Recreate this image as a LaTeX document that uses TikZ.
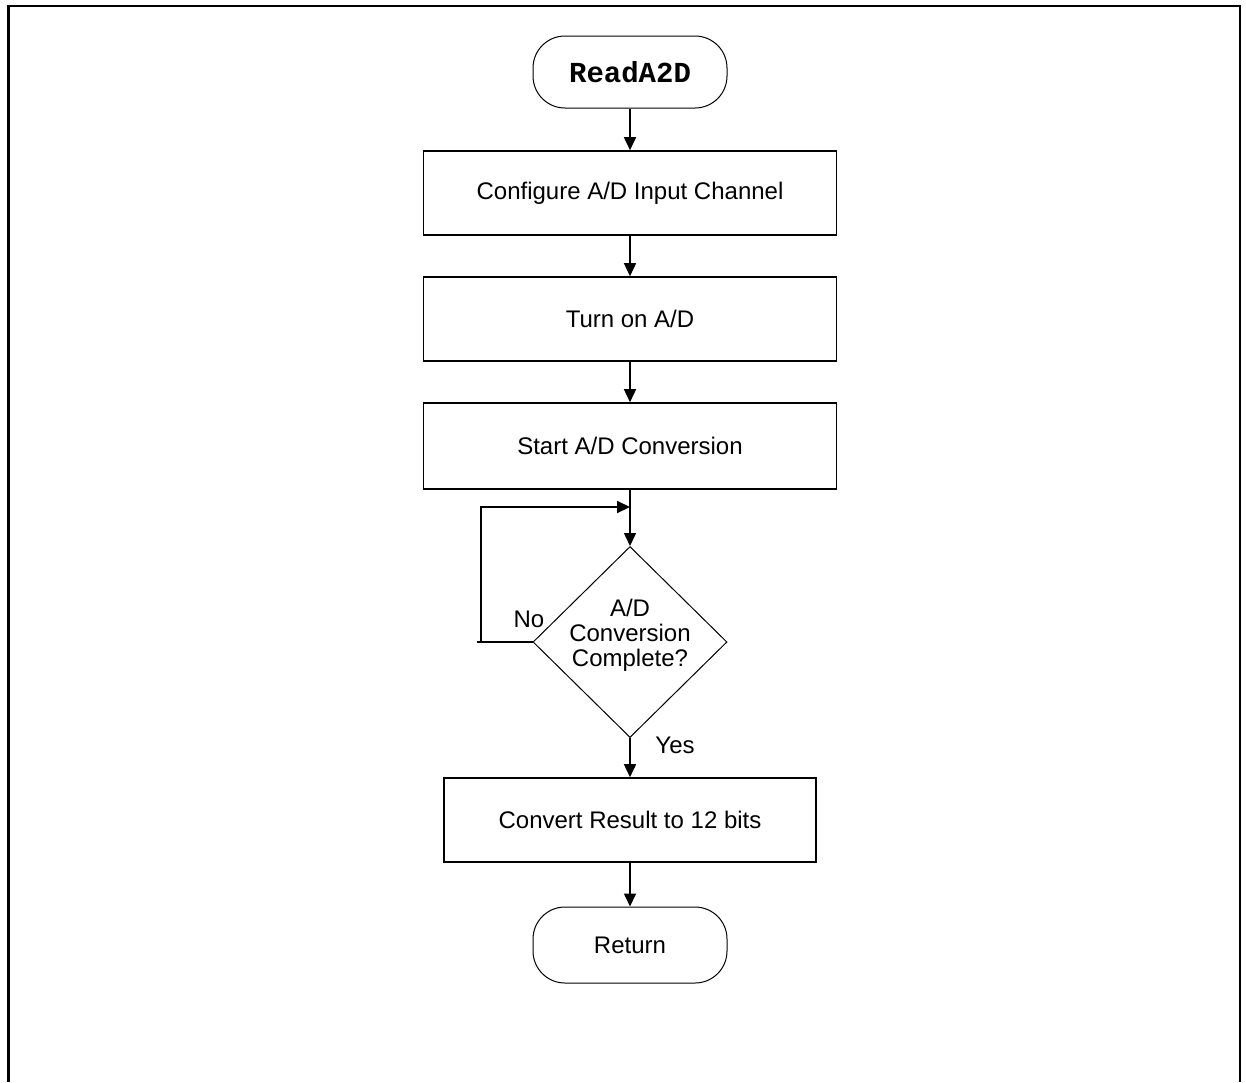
\documentclass[tikz,border=0pt]{standalone}
\usepackage{fontspec}
\setmainfont{Liberation Sans}
\newfontfamily\codefont{Liberation Mono}
\usepackage{tikz}
\usetikzlibrary{arrows.meta, positioning, calc, shapes.geometric}

\begin{document}
\begin{tikzpicture}[x=0.5pt, y=-0.5pt, >={Triangle[length=6.5pt, width=6pt]},
    every node/.style={font=\fontsize{12}{12.5}\selectfont},
    term/.style={draw, line width=0.5pt, rounded corners=16pt, minimum width=97pt, minimum height=37pt, inner sep=0pt},
    proc/.style={draw, line width=0.8pt, minimum width=206.5pt, minimum height=42pt, inner sep=0pt},
    dec/.style={draw, diamond, line width=0.5pt, minimum width=97pt, minimum height=95.5pt, inner sep=0pt},
    line/.style={line width=0.8pt}]
    \useasboundingbox (0,0) rectangle (1246,1082);
    % frame
    \draw[line width=1.1pt] (8.5,1082) -- (8.5,6) -- (1240,6) -- (1240,1082);
    % nodes
    \node[term, minimum height=36pt] (begin) at (630,72) {\codefont\bfseries\fontsize{14.5}{16}\selectfont ReadA2D};
    \node[proc] (config) at (630,193) {Configure A/D Input Channel};
    \node[proc] (turnon) at (630,319) {Turn on A/D};
    \node[proc, minimum height=43pt] (start) at (630,446) {Start A/D Conversion};
    \node[dec, label={[align=center, yshift=3.5pt]center:A/D\\Conversion\\Complete?}] (done) at (630,642) {};
    \node[proc, minimum width=186pt] (convert) at (630,820) {Convert Result to 12 bits};
    \node[term, minimum height=38pt] (return) at (630,945) {Return};
    % connectors
    \draw[line, ->] (begin) -- (config);
    \draw[line, ->] (config) -- (turnon);
    \draw[line, ->] (turnon) -- (start);
    \draw[line, ->] (start) -- (done);
    \draw[line, ->] (done) -- (convert);
    \draw[line, ->] (convert) -- (return);
    % no loop
    \coordinate (loop) at (481,507);
    \draw[line width=1pt, ->] (done.west) -- ++(-56,0) (loop |- done.west) -- (loop) -- (loop -| start.south);
    \node at (529,619) {No};
    \node at (675,745) {Yes};
\end{tikzpicture}
\end{document}
